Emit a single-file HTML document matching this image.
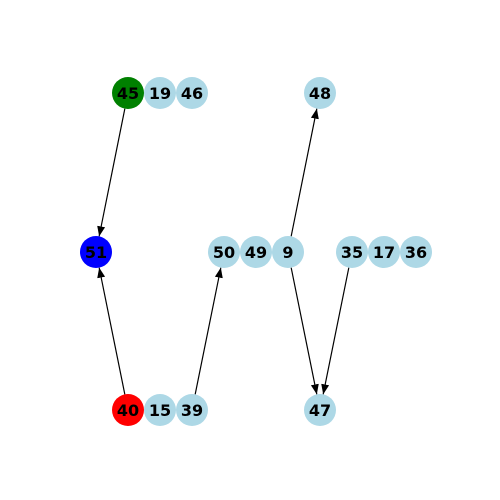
<!DOCTYPE html>
<html><head><meta charset="utf-8"><style>
html,body{margin:0;padding:0;background:#fff;width:500px;height:500px;overflow:hidden}
</style></head><body>
<svg id="chart" width="500" height="500" xmlns="http://www.w3.org/2000/svg">
<defs><marker id="arr" markerWidth="10" markerHeight="8" refX="10" refY="4" orient="auto" markerUnits="userSpaceOnUse"><path d="M0,0 L10,4 L0,8 z" fill="#000"/></marker></defs>
<g id="edges"></g><g id="nodes"></g>
</svg>
<script>
const nodeIds = ["45","19","46","48","51","50","49","9","35","17","36","40","15","39","47"];
const nodeX = [128,160,192,320,96,224,256,288,352,384,416,128,160,192,320];
const nodeY = [93,93,93,93,252,252,252,252,252,252,252,410,410,410,410];
const nodeColors = {"45":"green","51":"blue","40":"red"};
const edgeFrom = ["45","40","39","9","9","35"];
const edgeTo = ["51","51","50","48","47","47"];
const R = 16;
const NS = "http://www.w3.org/2000/svg";
const pos = {};
nodeIds.forEach((id,i)=>pos[id]=[nodeX[i],nodeY[i]]);
const eg = document.getElementById('edges');
edgeFrom.forEach((f,i)=>{
  const t = edgeTo[i];
  const [x1,y1]=pos[f],[x2,y2]=pos[t];
  const d=Math.hypot(x2-x1,y2-y1), ux=(x2-x1)/d, uy=(y2-y1)/d;
  const l=document.createElementNS(NS,'line');
  l.setAttribute('x1',x1+ux*R);l.setAttribute('y1',y1+uy*R);
  l.setAttribute('x2',x2-ux*R);l.setAttribute('y2',y2-uy*R);
  l.setAttribute('stroke','#000');l.setAttribute('stroke-width','1.2');
  l.setAttribute('marker-end','url(#arr)');
  
  
  eg.appendChild(l);
});
const ng = document.getElementById('nodes');
nodeIds.forEach((id,i)=>{
  const g=document.createElementNS(NS,'g');
  
  
  const c=document.createElementNS(NS,'circle');
  c.setAttribute('cx',nodeX[i]);c.setAttribute('cy',nodeY[i]);c.setAttribute('r',R);
  c.setAttribute('fill',nodeColors[id]||'#add8e6');
  g.appendChild(c);
  const tx=document.createElementNS(NS,'text');
  tx.setAttribute('x',nodeX[i]);tx.setAttribute('y',nodeY[i]+6);
  tx.setAttribute('text-anchor','middle');
  tx.setAttribute('font-family','"DejaVu Sans", "Liberation Sans", sans-serif');
  tx.setAttribute('font-weight','bold');tx.setAttribute('font-size','16');
  tx.textContent=id;
  g.appendChild(tx);
  ng.appendChild(g);
});
</script>
</body></html>
